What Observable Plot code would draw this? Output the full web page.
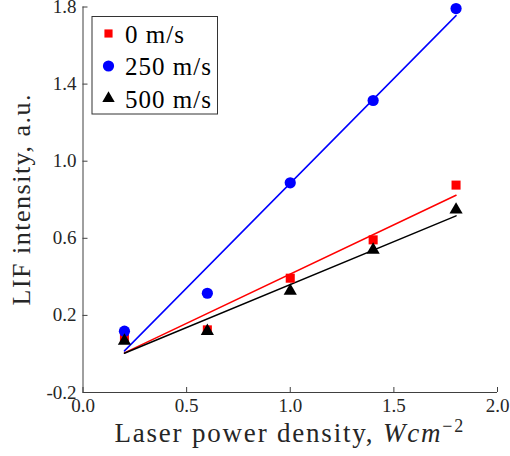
<!DOCTYPE html>
<html><head><meta charset="utf-8">
<script src="https://cdn.jsdelivr.net/npm/d3@7"></script>
<script src="https://cdn.jsdelivr.net/npm/@observablehq/plot@0.6"></script>
<style>body{margin:0;background:#fff;font-family:'Liberation Serif'}</style>
</head><body><div id="chart"></div>
<script>
const power = [0.2, 0.6, 1.0, 1.4, 1.8];
const series = ["0 m/s", "250 m/s", "500 m/s"];
const lif0 = [0.087, 0.125, 0.393, 0.592, 0.876];
const lif250 = [0.118, 0.315, 0.888, 1.315, 1.792];
const lif500 = [0.068, 0.118, 0.327, 0.540, 0.748];
const xTicks = [0, 0.5, 1.0, 1.5, 2.0];
const yTicks = [-0.2, 0.2, 0.6, 1.0, 1.4, 1.8];
const colors = ["#ff0000", "#0000ff", "#000000"];
const symbols = ["square", "circle", "triangle"];
const symbolR = [5.1, 5.6, 4.9];
const xLabel = ["Laser power density, ", "Wcm", "−2"];
const yLabel = "LIF intensity, a.u.";

const values = [lif0, lif250, lif500];
const rows = series.flatMap((s, i) => power.map((p, j) => ({series: s, power: p, lif: values[i][j]})));

const axisColor = "#404040";
const textColor = "#262626";
const font = "Liberation Serif";

const marks = [
  Plot.ruleX([0], {stroke: axisColor}),
  Plot.ruleY([-0.2], {stroke: axisColor}),
  Plot.axisX({ticks: xTicks, tickFormat: d => d.toFixed(1), tickSize: -5, tickPadding: 11, label: null, stroke: axisColor, fill: textColor}),
  Plot.axisY({ticks: yTicks, tickFormat: d => d.toFixed(1), tickSize: -5, tickPadding: 11.5, label: null, stroke: axisColor, fill: textColor})
];
series.forEach((s, i) => {
  const data = rows.filter(d => d.series === s);
  marks.push(Plot.linearRegressionY(data, {x: "power", y: "lif", stroke: colors[i], strokeWidth: 1.5, ci: 0}));
});
series.forEach((s, i) => {
  const data = rows.filter(d => d.series === s);
  marks.push(Plot.dot(data, {x: "power", y: "lif", fill: colors[i], stroke: "none", symbol: symbols[i], r: symbolR[i]}));
});

const plot = Plot.plot({
  width: 510, height: 456,
  marginLeft: 82.5, marginRight: 13, marginTop: 6.5, marginBottom: 64,
  style: {fontFamily: font, fontSize: "19px", color: textColor, background: "#fff", overflow: "visible"},
  x: {domain: [0, 2]},
  y: {domain: [-0.2, 1.8]},
  marks
});
plot.setAttribute("font-family", font);
document.getElementById("chart").appendChild(plot);

const svg = d3.select(plot);
const xr = plot.scale("x").range;
const yr = plot.scale("y").range;

// x axis label
const xl = svg.append("text")
  .attr("x", (xr[0] + xr[1]) / 2).attr("y", 442)
  .attr("text-anchor", "middle").attr("fill", textColor)
  .style("font-size", "27px").style("letter-spacing", "1.8px");
xl.append("tspan").text(xLabel[0]);
xl.append("tspan").style("font-style", "italic").text(xLabel[1]);
xl.append("tspan").attr("dy", -10).style("font-size", "18px").text(xLabel[2]);

// y axis label
svg.append("text")
  .attr("transform", `translate(30,${(yr[0] + yr[1]) / 2}) rotate(-90)`)
  .attr("text-anchor", "middle").attr("fill", textColor)
  .style("font-size", "26px").style("letter-spacing", "1.5px")
  .text(yLabel);

// legend
const lg = svg.append("g").attr("transform", `translate(${xr[0] + 9.5},${yr[1] + 10})`);
lg.append("rect").attr("x", 0).attr("y", 0).attr("width", 125.5).attr("height", 97.5)
  .attr("fill", "#fff").attr("stroke", "#333").attr("stroke-width", 1);
const symMap = {square: d3.symbolSquare, circle: d3.symbolCircle, triangle: d3.symbolTriangle};
const legendR = [4.6, 5.6, 4.6];
series.forEach((s, i) => {
  const cy = 17 + i * 32.5;
  lg.append("path")
    .attr("transform", `translate(16.5,${cy})`)
    .attr("d", d3.symbol(symMap[symbols[i]], Math.PI * legendR[i] * legendR[i])())
    .attr("fill", colors[i]);
  lg.append("text").attr("x", 33).attr("y", cy + 9)
    .attr("text-anchor", "start")
    .attr("fill", "#000")
    .style("font-size", "25px").style("letter-spacing", "1px")
    .text(s);
});
svg.selectAll("text").attr("font-family", font).style("font-family", font);
</script>
</body></html>
